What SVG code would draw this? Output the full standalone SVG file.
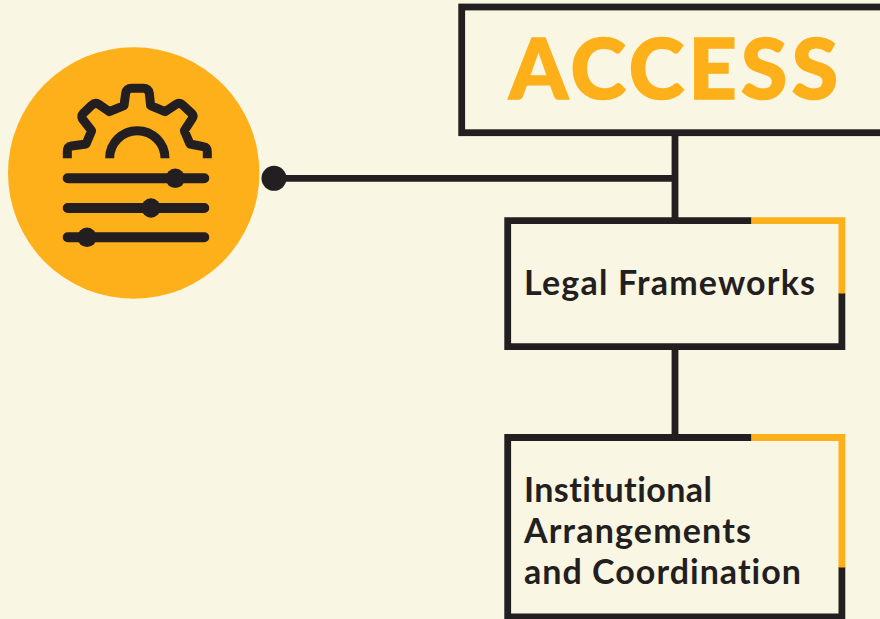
<svg xmlns="http://www.w3.org/2000/svg" width="880" height="619" viewBox="0 0 880 619">
<style>
.ln{fill:none;stroke:#231f20;stroke-width:6.8}
.or{fill:none;stroke:#fdb019;stroke-width:6.8}
.t{font-family:"Lato","Liberation Sans",sans-serif;font-weight:700;font-size:34px;fill:#231f20;font-variant-ligatures:none}
.h{font-family:"Lato","Liberation Sans",sans-serif;font-weight:900;font-size:84px;fill:#fdb019;stroke:#fdb019;stroke-width:1.6}
.ic{fill:none;stroke:#231f20;stroke-linejoin:round}
.sl{stroke:#231f20;stroke-width:10;stroke-linecap:round}
.kn{fill:#231f20}
</style>
<rect width="880" height="619" fill="#f9f6e3"/>
<g id="connectors">
<path class="ln" d="M675 136V218M675 350V434M274 178.300H675"/>
<circle class="kn" cx="274" cy="178.300" r="12.500"/>
</g>
<g id="icon">
<circle cx="133.700" cy="173" r="125.700" fill="#fdb019"/>
<g transform="translate(0 40) scale(.3333)" class="ic" stroke-width="27">
<path d="M202 355V335Q202 320 215 318L258 312L275 272L247 236Q243 228 250 220L275 196Q285 187 295 192L328 215L372 197L377 160Q380 145 395 145H430Q445 145 448 160L452 197L495 215L530 192Q540 187 548 195L575 220Q582 228 577 235L553 272L570 312L610 320Q622 322 622 335V355"/>
<path d="M329 355A83 83 0 0 1 495 355"/>
</g>
<path class="sl" d="M67.700 178.300H204.300M67.700 208H204.300M67.700 237.300H204.300"/>
<circle class="kn" cx="175.300" cy="178.300" r="9.700"/>
<circle class="kn" cx="151" cy="208" r="9.700"/>
<circle class="kn" cx="87" cy="237.300" r="9.700"/>
</g>
<g id="access">
<rect class="ln" x="461.700" y="7" width="430" height="125.700"/>
<text class="h" x="509" y="98.500" textLength="329" lengthAdjust="spacing">ACCESS</text>
</g>
<g id="legal">
<path class="ln" d="M751.500 220.700H507.700V346.700H841.900V293"/>
<path class="or" d="M751.500 220.700H841.900V293.500"/>
<text class="t" x="524" y="294.500" textLength="291" lengthAdjust="spacing">Legal Frameworks</text>
</g>
<g id="institutional">
<path class="ln" d="M751.500 437.500H507.700V616.800H841.900V567"/>
<path class="or" d="M751.500 437.500H841.900V567.500"/>
<text class="t" x="524" y="501.500" textLength="188" lengthAdjust="spacing">Institutional</text>
<text class="t" x="524" y="542.500" textLength="227" lengthAdjust="spacing">Arrangements</text>
<text class="t" x="524" y="583.500" textLength="277" lengthAdjust="spacing">and Coordination</text>
</g>
</svg>
